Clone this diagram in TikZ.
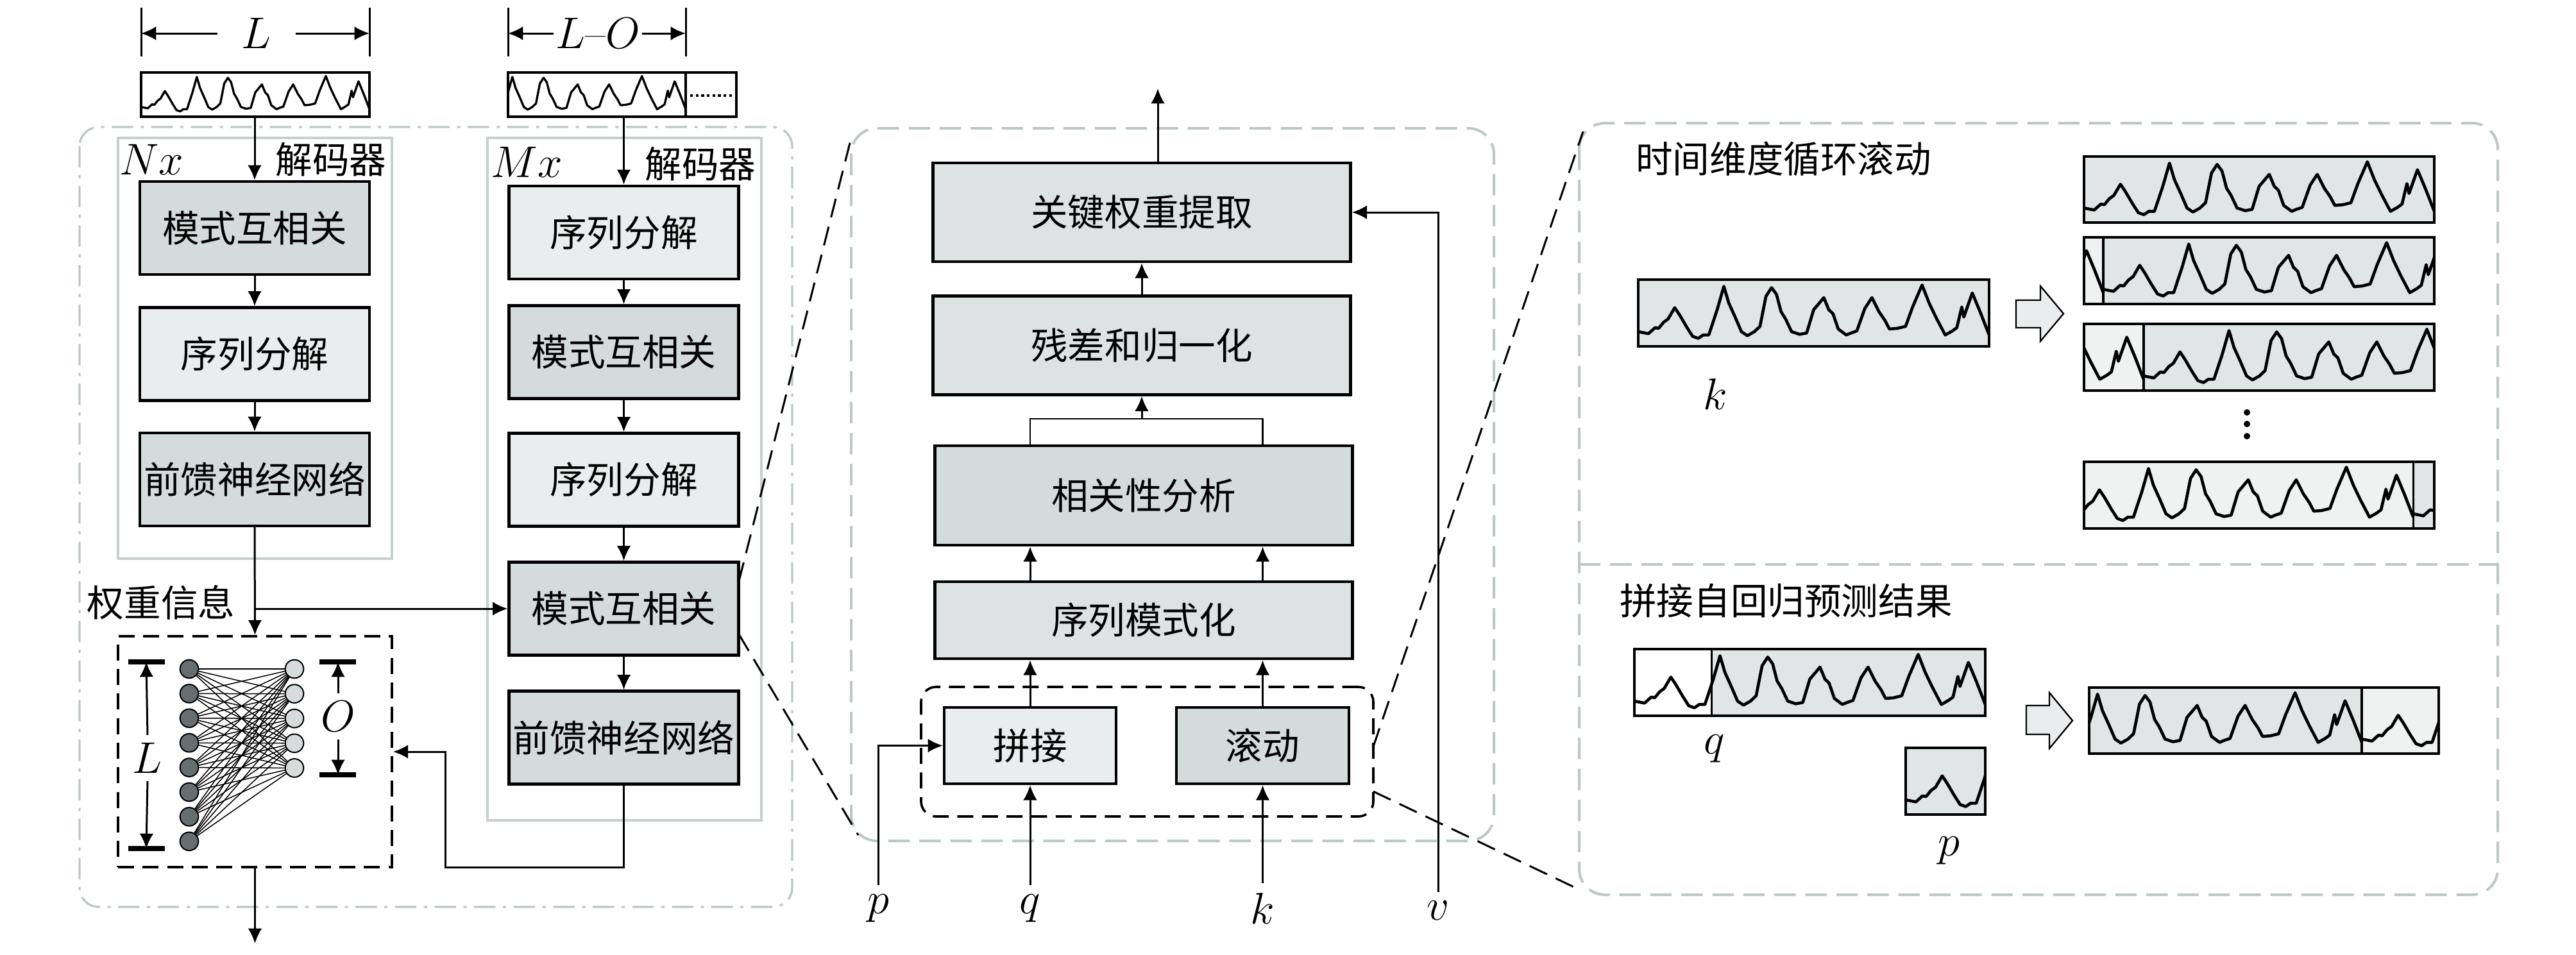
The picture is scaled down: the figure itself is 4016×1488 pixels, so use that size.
\documentclass[tikz,border=0pt]{standalone}
\usepackage{fontspec}
\newfontfamily\cjk{Noto Sans CJK SC}
\usetikzlibrary{arrows.meta}

\definecolor{boxdark}{RGB}{212,219,219}
\definecolor{boxmid}{RGB}{221,227,227}
\definecolor{boxlight}{RGB}{233,237,237}
\definecolor{wavedark}{RGB}{224,230,230}
\definecolor{wavelight}{RGB}{239,242,241}
\definecolor{grpgrey}{RGB}{200,207,207}
\definecolor{panelgrey}{RGB}{188,199,199}
\definecolor{nndark}{RGB}{102,110,114}
\definecolor{nnlight}{RGB}{214,220,220}

\tikzset{every picture/.style={line width=0.75pt}}
\tikzset{
	arr/.style={-{Latex[length=7pt,width=6.5pt]},line width=0.9pt},
	blk/.style={draw,line width=1.3pt,font=\LARGE\cjk,inner sep=0pt,minimum width=107.4pt,minimum height=43.5pt},
	dkblk/.style={blk,fill=boxdark},
	ltblk/.style={blk,fill=boxlight},
	mdblk/.style={blk,fill=boxmid,minimum width=195.3pt,minimum height=46.2pt},
	lbl/.style={font=\huge},
	inlbl/.style={font=\huge,inner sep=4pt},
	cjklbl/.style={font=\LARGE\cjk},
	wave/.style={line width=1.4pt,line join=round},
	divline/.style={line width=1pt},
	boxline/.style={line width=1.2pt},
	grp/.style={draw=grpgrey,line width=1pt},
	outerdd/.style={draw=panelgrey,line width=1pt,rounded corners=9pt,dash pattern=on 10pt off 3.5pt on 1.5pt off 3.5pt},
	panel/.style={draw=panelgrey,line width=1.2pt,dash pattern=on 10pt off 4.5pt},
	zoomline/.style={line width=0.9pt,dash pattern=on 9pt off 4.5pt},
	nnbox/.style={draw,line width=1.1pt,dash pattern=on 7.5pt off 4pt,inner sep=0pt,minimum width=128.1pt,minimum height=108pt},
	rollgrp/.style={draw,line width=1.1pt,dash pattern=on 7.5pt off 4pt,rounded corners=7pt,inner sep=0pt,minimum width=211.5pt,minimum height=60.6pt},
	nnin/.style={circle,draw,line width=0.6pt,fill=nndark,minimum size=8.6pt,inner sep=0pt},
	nnout/.style={circle,draw,line width=0.6pt,fill=nnlight,minimum size=8.6pt,inner sep=0pt},
	nnedge/.style={line width=0.45pt},
	dimtick/.style={line width=0.9pt},
	dimbar/.style={line width=2.2pt},
	blockarr/.style={draw,line width=0.7pt,fill=boxlight}
}

% one period of the load curve, unit box
\newcommand{\wavecurve}{(0,0.22) -- (0.029,0.19) -- (0.048,0.28) -- (0.058,0.27) -- (0.072,0.36) -- (0.085,0.41) -- (0.104,0.58) -- (0.118,0.47) -- (0.138,0.29) -- (0.155,0.15) -- (0.171,0.12) -- (0.185,0.17) -- (0.201,0.17) -- (0.225,0.55) -- (0.244,0.90) -- (0.258,0.65) -- (0.277,0.43) -- (0.294,0.22) -- (0.311,0.16) -- (0.331,0.22) -- (0.347,0.30) -- (0.364,0.75) -- (0.380,0.88) -- (0.394,0.78) -- (0.407,0.52) -- (0.420,0.41) -- (0.437,0.22) -- (0.460,0.18) -- (0.480,0.20) -- (0.500,0.55) -- (0.513,0.63) -- (0.529,0.73) -- (0.543,0.55) -- (0.555,0.49) -- (0.570,0.26) -- (0.593,0.17) -- (0.606,0.20) -- (0.623,0.23) -- (0.646,0.57) -- (0.666,0.73) -- (0.686,0.52) -- (0.703,0.39) -- (0.716,0.26) -- (0.739,0.27) -- (0.762,0.30) -- (0.782,0.59) -- (0.809,0.92) -- (0.829,0.65) -- (0.849,0.43) -- (0.875,0.17) -- (0.895,0.23) -- (0.908,0.28) -- (0.922,0.59) -- (0.928,0.44) -- (0.952,0.80) -- (0.975,0.51) -- (1,0.17)}

% #1 left, #2 top, #3 width, #4 height, #5 roll, #6 divider, #7 fill left, #8 fill right
\newcommand{\rollbox}[8]{%
	\begin{scope}[shift={(#1,#2+#4)},xscale=#3,yscale=-#4]
		\fill[#7] (0,0) rectangle (#6,1);
		\fill[#8] (#6,0) rectangle (1,1);
		\begin{scope}
			\clip (0,0) rectangle (1,1);
			\draw[wave,shift={(#5,0)}] \wavecurve;
			\draw[wave,shift={(#5-1,0)}] \wavecurve;
		\end{scope}
		\draw[divline] (#6,0) -- (#6,1);
		\draw[boxline] (0,0) rectangle (1,1);
	\end{scope}}

\begin{document}
\begin{tikzpicture}[x=0.3pt,y=0.3pt,yscale=-1,xscale=1]
	\useasboundingbox (0,0) rectangle (4016,1488);

	%Shape: Rounded Rect [decoders]
	\draw[outerdd] (124,198) rectangle (1235,1414);
	%Shape: Rectangle
	\draw[grp] (184,215) rectangle (611,871);
	%Shape: Rectangle
	\draw[grp] (760,215) rectangle (1187,1279);
	%Shape: Rounded Rect [detail]
	\draw[panel,rounded corners=12pt] (1327,200) rectangle (2329,1311);
	%Shape: Rounded Rect [rolling]
	\draw[panel,rounded corners=12pt] (2462,192) rectangle (3894,1395);
	\draw[panel] (2462,880) -- (3894,880);

	% dimension marks on top
	\draw[dimtick] (220,12) -- (220,88);
	\draw[dimtick] (576,12) -- (576,88);
	\draw[dimtick] (792,12) -- (792,88);
	\draw[dimtick] (1069,12) -- (1069,88);
	\coordinate (dL1) at (220,52);
	\coordinate (dL2) at (576,52);
	\coordinate (dO1) at (792,52);
	\coordinate (dO2) at (1069,52);
	% Text Node
	\node[lbl,inner xsep=11pt] (Ldim) at (400,52) {$L$};
	% Text Node
	\node[lbl,inner xsep=0.5pt] (LOdim) at (932,52) {$L$--$O$};
	\draw[arr] (Ldim.west) -- (dL1);
	\draw[arr] (Ldim.east) -- (dL2);
	\draw[arr] (LOdim.west) -- (dO1);
	\draw[arr] (LOdim.east) -- (dO2);

	% input sequences
	\node[inner sep=0pt,minimum width=106.8pt,minimum height=20.7pt] (inL) at (398,147.5) {};
	\node[inner sep=0pt,minimum width=106.8pt,minimum height=20.7pt] (inLO) at (970,147.5) {};
	\begin{scope}[wave/.append style={line width=1pt},boxline/.append style={line width=1pt}]
		\rollbox{220}{113}{356}{69}{0}{0}{white}{white}
	\end{scope}
	\begin{scope}
		\clip (792,113) rectangle (1069,182);
		\draw[wave,line width=1pt,shift={(711.6,182)},xscale=357.4,yscale=-69] \wavecurve;
	\end{scope}
	\draw[divline] (1069,113) -- (1069,182);
	\draw[line width=1.2pt,dash pattern=on 1.3pt off 1.3pt] (1076,149) -- (1145,149);
	\draw[line width=1pt] (792,113) rectangle (1148,182);

	% left decoder
	\node[dkblk] (lmc) at (397,355.5) {模式互相关};
	\node[ltblk] (lsd) at (397,552) {序列分解};
	\node[dkblk] (lff) at (397,747.5) {前馈神经网络};
	% Text Node
	\node[lbl] (nx) at (236,249) {$Nx$};
	% Text Node
	\node[cjklbl] (dec1) at (516,249) {解码器};

	% right decoder
	\node[ltblk] (rsd1) at (972.5,362.5) {序列分解};
	\node[dkblk] (rmc1) at (972.5,549) {模式互相关};
	\node[ltblk] (rsd2) at (972.5,748) {序列分解};
	\node[dkblk] (rmc2) at (972.5,949) {模式互相关};
	\node[dkblk] (rff) at (972.5,1150) {前馈神经网络};
	% Text Node
	\node[lbl] (mx) at (821,253) {$Mx$};
	% Text Node
	\node[cjklbl] (dec2) at (1092,256) {解码器};

	%Straight Lines
	\draw[arr] (inL.south -| lmc) -- (lmc.north);
	\draw[arr] (lmc.south) -- (lsd.north);
	\draw[arr] (lsd.south) -- (lff.north);
	\draw[arr] (inLO.south -| rsd1) -- (rsd1.north);
	\draw[arr] (rsd1.south) -- (rmc1.north);
	\draw[arr] (rmc1.south) -- (rsd2.north);
	\draw[arr] (rsd2.south) -- (rmc2.north);
	\draw[arr] (rmc2.south) -- (rff.north);

	% weight network
	\node[nnbox] (nnb) at (397.5,1172) {};
	% Text Node
	\node[cjklbl] (wgt) at (251,939) {权重信息};
	\coordinate (outL) at (397.5,1471);
	\coordinate (fbk) at (694,1352);
	\draw[arr] (lff.south) -- (nnb.north);
	\draw[arr] (lff.south |- rmc2.west) -- (rmc2.west);
	\draw[arr] (nnb.south) -- (outL);
	\draw[arr] (rff.south) |- (fbk) |- (nnb.east);

	\foreach \i in {1,...,8}
		\node[nnin] (l\i) at (295,{1043+38.4*(\i-1)}) {};
	\foreach \j in {1,...,5}
		\node[nnout] (o\j) at (459,{1043+38.6*(\j-1)}) {};
	\foreach \i in {1,...,8}
		\foreach \j in {1,...,5}
			\draw[nnedge] (l\i) -- (o\j);

	\draw[dimbar] (200,1032) -- (257,1032);
	\draw[dimbar] (200,1323) -- (257,1323);
	\draw[dimbar] (498,1032) -- (555,1032);
	\draw[dimbar] (498,1208) -- (555,1208);
	\coordinate (Lt) at (228,1032);
	\coordinate (Lb) at (228,1323);
	\coordinate (Ot) at (527,1032);
	\coordinate (Ob) at (527,1208);
	% Text Node
	\node[lbl] (Lnn) at (230,1182) {$L$};
	% Text Node
	\node[lbl] (Onn) at (527,1117) {$O$};
	\draw[arr] (Lnn.north) -- (Lt);
	\draw[arr] (Lnn.south) -- (Lb);
	\draw[arr] (Onn.north) -- (Ot);
	\draw[arr] (Onn.south) -- (Ob);

	% detail of the cross correlation
	\node[mdblk] (kwe) at (1780,331) {关键权重提取};
	\node[mdblk] (res) at (1780,538.5) {残差和归一化};
	\node[mdblk,fill=boxdark,minimum height=46.5pt] (cor) at (1783,772.5) {相关性分析};
	\node[mdblk,minimum height=36pt] (spm) at (1783,967) {序列模式化};
	\node[rollgrp] (rollg) at (1788.5,1172) {};
	\node[blk,fill=boxlight,minimum width=80.4pt,minimum height=35.7pt] (pj) at (1606,1162.5) {拼接};
	\node[blk,fill=boxdark,minimum width=80.7pt,minimum height=35.7pt] (gd) at (1968.5,1162.5) {滚动};

	% Text Node
	\node[inlbl] (pin) at (1369,1416) {$p$};
	% Text Node
	\node[inlbl] (qin) at (1606,1416) {$q$};
	% Text Node
	\node[inlbl] (kin) at (1968.5,1416) {$k$};
	% Text Node
	\node[inlbl] (vin) at (2242,1420) {$v$};

	\coordinate (mrg) at (1780,653);
	\coordinate (outM) at (1805,138);
	%Straight Lines
	\draw[arr] (pin.north) |- (pj.west);
	\draw[arr] (qin.north) -- (pj.south);
	\draw[arr] (kin.north) -- (gd.south);
	\draw[arr] (vin.north) |- (kwe.east);
	\draw[arr] (pj.north) -- (pj.north |- spm.south);
	\draw[arr] (gd.north) -- (gd.north |- spm.south);
	\draw[arr] (pj.north |- spm.north) -- (pj.north |- cor.south);
	\draw[arr] (gd.north |- spm.north) -- (gd.north |- cor.south);
	\draw (pj.north |- cor.north) -- (pj.north |- mrg) -- (gd.north |- mrg) -- (gd.north |- cor.north);
	\draw[arr] (mrg) -- (mrg |- res.south);
	\draw[arr] (res.north) -- (kwe.south);
	\draw[arr] (kwe.north -| outM) -- (outM);

	% zoom lines
	\coordinate (zmA) at (1152,906);
	\coordinate (zmB) at (1152,989);
	\coordinate (mpTL) at (1327,215);
	\coordinate (mpBL) at (1338,1302);
	\coordinate (rgA) at (2141,1164);
	\coordinate (rgB) at (2141,1234);
	\coordinate (rpTL) at (2468,205);
	\coordinate (rpBL) at (2460,1386);
	\draw[zoomline] (zmA) -- (mpTL);
	\draw[zoomline] (zmB) -- (mpBL);
	\draw[zoomline] (rgA) -- (rpTL);
	\draw[zoomline] (rgB) -- (rpBL);

	% rolling in time
	% Text Node
	\node[cjklbl,anchor=west] (ttl1) at (2538,248) {时间维度循环滚动};
	\rollbox{2554}{436}{547}{104}{0}{0}{wavedark}{wavedark}
	% Text Node
	\node[lbl] (kname) at (2674,614) {$k$};
	%Shape: Right Arrow
	\draw[blockarr] (3143,468) -- (3181,468) -- (3181,446) -- (3217,489) -- (3181,532) -- (3181,511) -- (3143,511) -- cycle;
	\rollbox{3249}{244}{546}{103}{0}{0}{wavedark}{wavedark}
	\rollbox{3249}{370}{546}{104}{0.055}{0.055}{wavelight}{wavedark}
	\rollbox{3249}{505}{546}{104}{0.17}{0.17}{wavelight}{wavedark}
	\foreach \y in {643,661,680}
		\fill (3503,\y) circle (1.5pt);
	\rollbox{3249}{720}{546}{104}{0.94}{0.94}{wavelight}{wavedark}

	% splicing the forecast
	% Text Node
	\node[cjklbl,anchor=west] (ttl2) at (2513,937) {拼接自回归预测结果};
	\rollbox{2548}{1012}{547}{104}{0}{0.22}{white}{wavedark}
	% Text Node
	\node[lbl] (qname) at (2673,1167) {$q$};
	\begin{scope}[shift={(2971,1270)},xscale=547,yscale=-104]
		\fill[wavedark] (0,0) rectangle (0.227,1);
		\begin{scope}
			\clip (0,0) rectangle (0.227,1);
			\draw[wave] \wavecurve;
		\end{scope}
		\draw[boxline] (0,0) rectangle (0.227,1);
	\end{scope}
	% Text Node
	\node[lbl] (pname) at (3038,1326) {$p$};
	%Shape: Right Arrow
	\draw[blockarr] (3159,1100) -- (3195,1100) -- (3195,1080) -- (3231,1123.5) -- (3195,1167) -- (3195,1145) -- (3159,1145) -- cycle;
	\rollbox{3257}{1072}{545}{103}{0.78}{0.78}{wavedark}{wavelight}

\end{tikzpicture}
\end{document}
